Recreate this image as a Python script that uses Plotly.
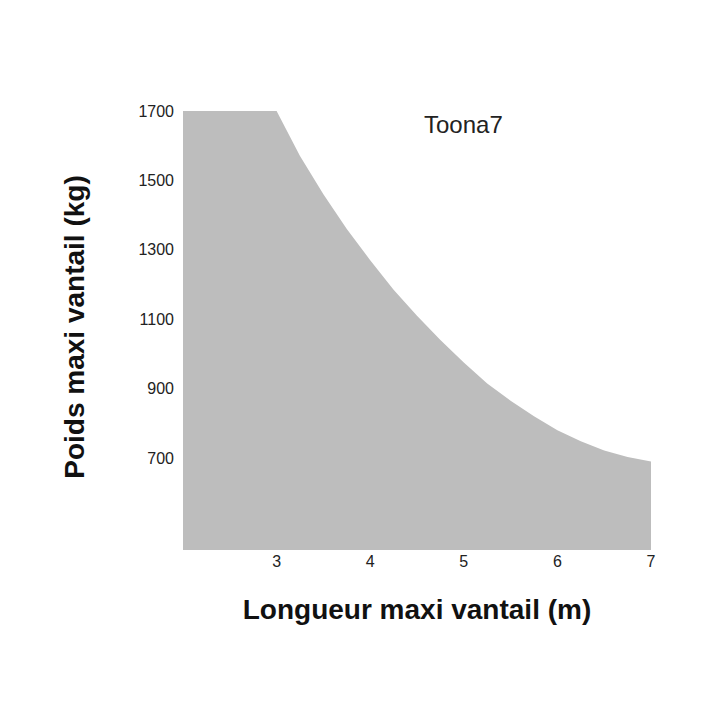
import plotly.graph_objects as go

# longueur (m) vs poids max (kg)
longueur = [2.0, 3.0, 3.25, 3.5, 3.75, 4.0, 4.25, 4.5, 4.75, 5.0, 5.25, 5.5, 5.75, 6.0, 6.25, 6.5, 6.75, 7.0]
poids = [1700, 1700, 1570, 1460, 1360, 1270, 1185, 1110, 1040, 975, 915, 865, 820, 780, 748, 722, 703, 690]

x_ticks = [3, 4, 5, 6, 7]
y_ticks = [700, 900, 1100, 1300, 1500, 1700]

fig = go.Figure()
fig.add_trace(go.Scatter(
    x=longueur, y=poids, mode="lines", line=dict(color="#bdbdbd", width=0),
    fill="tozeroy", fillcolor="#bdbdbd", hoverinfo="skip",
))

fig.add_annotation(x=5.0, y=1660, text="Toona7", showarrow=False, xanchor="center",
                   font=dict(family="Liberation Sans", size=24, color="#222"))

fig.update_xaxes(range=[2, 7], tickvals=x_ticks, showgrid=False, zeroline=False, showline=False,
                 ticks="", automargin=False,
                 tickfont=dict(family="Liberation Sans Narrow, Liberation Sans", size=16, color="#222"),
                 title=dict(text="<b>Longueur maxi vantail (m)</b>", standoff=30,
                            font=dict(family="Liberation Sans", size=28, color="#111")))
fig.update_yaxes(range=[435, 1720], tickvals=y_ticks, showgrid=False, zeroline=False, showline=False,
                 ticks="", ticklabelstandoff=8, automargin=False,
                 tickfont=dict(family="Liberation Sans Narrow, Liberation Sans", size=16, color="#222"),
                 title=dict(text="<b>Poids maxi vantail (kg)</b>", standoff=45,
                            font=dict(family="Liberation Sans", size=28, color="#111")))

fig.update_layout(width=720, height=720, plot_bgcolor="white", paper_bgcolor="white",
                  showlegend=False, margin=dict(l=175, r=77, t=96, b=178))
fig.write_html("out.html")
